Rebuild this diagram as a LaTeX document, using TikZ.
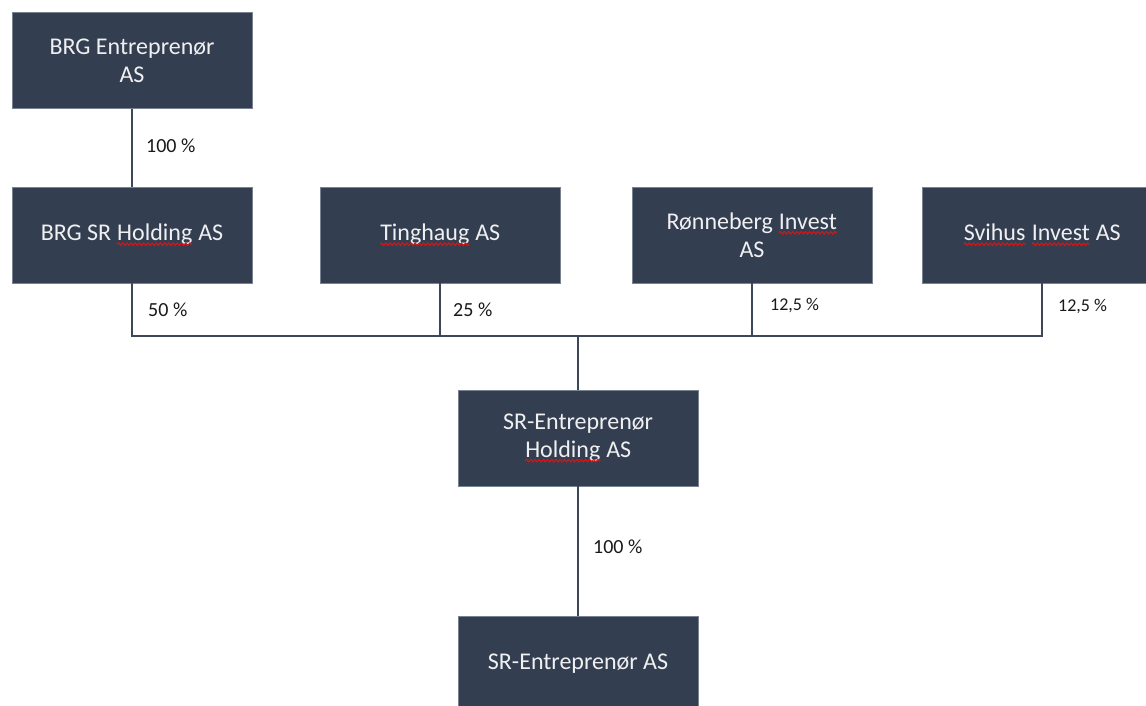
\documentclass[tikz,border=0pt]{standalone}
\usepackage{fontspec}
\setmainfont{Carlito}
\usetikzlibrary{decorations.pathmorphing}
\definecolor{boxc}{RGB}{51,63,80}
\definecolor{boxedge}{RGB}{120,130,145}
\definecolor{linec}{RGB}{60,72,88}
\definecolor{sqred}{RGB}{220,20,20}
\definecolor{boxtext}{RGB}{240,240,242}
\tikzset{
  orgbox/.style={rectangle,fill=boxc,draw=boxedge,line width=0.6pt,minimum width=240pt,minimum height=96pt,inner sep=0pt,text=boxtext,align=center,font=\fontsize{24}{28}\selectfont},
  plainword/.style={rectangle,draw=none,fill=none,minimum width=0pt,minimum height=0pt,inner sep=0pt,outer sep=0pt,text=boxtext},
  squig/.style={draw=sqred,fill=none,line width=1pt,decorate,decoration={snake,amplitude=1.3pt,segment length=4.2pt}},
  conn/.style={draw=linec,line width=1.5pt},
  pct/.style={anchor=west,inner sep=0pt,text=black!90,font=\fontsize{20}{24}\selectfont},
  pctsmall/.style={pct,font=\fontsize{18}{22}\selectfont}
}
\newcommand\sqw[1]{\tikz[baseline=(sqwn.base)]{\node[plainword](sqwn){#1};\path[squig] ([yshift=-3.5pt]sqwn.base west)--([yshift=-3.5pt]sqwn.base east);}}
\begin{document}
\begin{tikzpicture}[x=1pt,y=-1pt]
\useasboundingbox (0,0) rectangle (1146,706);
\fill[white] (0,0) rectangle (1146,706);
\node[orgbox] (A) at (132,60.5) {BRG Entreprenør\\AS};
\node[orgbox] (B) at (132,235) {BRG SR \sqw{Holding} AS};
\node[orgbox] (C) at (440,235) {\sqw{Tinghaug} AS};
\node[orgbox] (D) at (752,235) {Rønneberg \sqw{Invest}\\AS};
\node[orgbox] (E) at (1042,235) {\sqw{Svihus} \sqw{Invest} AS};
\node[orgbox] (F) at (578,438) {SR-Entreprenør\\\sqw{Holding} AS};
\node[orgbox] (G) at (578,664) {SR-Entreprenør AS};
\coordinate (bus) at (578,336);
\draw[conn] (A.south) -- (B.north);
\draw[conn] (B.south) -- (B.south |- bus) -- (E.south |- bus) -- (E.south);
\draw[conn] (C.south) -- (C.south |- bus);
\draw[conn] (D.south) -- (D.south |- bus);
\draw[conn] (bus) -- (F.north);
\draw[conn] (F.south) -- (G.north);
\node[pct] (pA) at (146,146) {100 \%};
\node[pct] (pB) at (148,310) {50 \%};
\node[pct] (pC) at (453,310) {25 \%};
\node[pctsmall] (pD) at (770,306) {12,5 \%};
\node[pctsmall] (pE) at (1058,307) {12,5 \%};
\node[pct] (pF) at (593,547) {100 \%};
\end{tikzpicture}
\end{document}
